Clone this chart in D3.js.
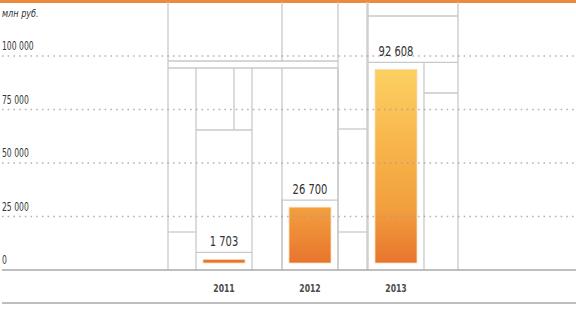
<!DOCTYPE html>
<html>
<head>
<meta charset="utf-8">
<script src="https://cdn.jsdelivr.net/npm/d3@7"></script>
<style>
  body { margin: 0; background: #fff; }
  text { font-family: "DejaVu Sans Condensed", "Liberation Sans Narrow", "Roboto", sans-serif; fill: #333; }
</style>
</head>
<body>
<svg id="chart" width="576" height="311"></svg>
<script>
var years = ["2011", "2012", "2013"];
var values = [1703, 26700, 92608];
var valueLabels = ["1 703", "26 700", "92 608"];
var ticks = [0, 25000, 50000, 75000, 100000];
var tickLabels = ["0", "25 000", "50 000", "75 000", "100 000"];
var unitLabel = "млн руб.";

// decorative frame segments (layout only)
var frames = [
  [168, 2, 168, 270], [282, 2, 282, 61], [338, 2, 338, 270],
  [367, 2, 367, 270], [458, 2, 458, 270], [234, 68, 234, 130],
  [282, 199, 282, 270], [168, 61, 338, 61], [168, 68, 338, 68],
  [196, 130, 252, 130], [168, 232, 196, 232], [338, 129, 367, 129],
  [338, 232, 367, 232], [367, 16, 458, 16], [424, 93, 458, 93]
];

var data = years.map((d, i) => ({ year: d, value: values[i], label: valueLabels[i] }));

var svg = d3.select("#chart");
var W = 576;

// grid scale and bar scale (bars sit slightly above the baseline)
var y = d3.scaleLinear().domain([0, 100000]).range([270, 56]);
var yBar = d3.scaleLinear().domain([0, 100000]).range([263, 54]);

var x = d3.scaleBand()
  .domain(years)
  .range([181, 439])
  .paddingInner(0.512)
  .paddingOuter(0.256);

// narrow text: draw at origin, move and squeeze
function place(sel, fx, fy, sx) {
  sel.attr("transform", (d, i) => "translate(" + fx(d, i) + "," + fy(d, i) + ") scale(" + sx + ",1)");
}

var defs = svg.append("defs");
var grad = defs.append("linearGradient")
  .attr("id", "barGrad")
  .attr("gradientUnits", "userSpaceOnUse")
  .attr("x1", 0).attr("x2", 0)
  .attr("y1", yBar(92608)).attr("y2", yBar(0));
grad.append("stop").attr("offset", "0%").attr("stop-color", "#fcd062");
grad.append("stop").attr("offset", "50%").attr("stop-color", "#f6ae46");
grad.append("stop").attr("offset", "72%").attr("stop-color", "#f29f3e");
grad.append("stop").attr("offset", "100%").attr("stop-color", "#e8742e");

// top orange rule
svg.append("rect")
  .attr("x", 0).attr("y", 0)
  .attr("width", W).attr("height", 3)
  .attr("fill", "#ee8a3c");

// frames
svg.append("g")
  .selectAll("line")
  .data(frames)
  .enter()
  .append("line")
  .attr("x1", d => d[0]).attr("y1", d => d[1])
  .attr("x2", d => d[2]).attr("y2", d => d[3])
  .attr("stroke", "#c9c9c9")
  .attr("stroke-width", 1.3);

// boxes around each bar
var box = svg.append("g").selectAll("g").data(data).enter().append("g");
box.append("line")
  .attr("x1", d => x(d.year) - 7).attr("x2", d => x(d.year) - 7)
  .attr("y1", d => d.year == "2013" ? 2 : 68).attr("y2", 270);
box.append("line")
  .attr("x1", d => x(d.year) + x.bandwidth() + 7).attr("x2", d => x(d.year) + x.bandwidth() + 7)
  .attr("y1", d => d.year == "2013" ? yBar(d.value) - 7 : 68).attr("y2", 270);
box.append("line")
  .attr("x1", d => x(d.year) - 7)
  .attr("x2", d => d.year == "2013" ? 458 : x(d.year) + x.bandwidth() + 7)
  .attr("y1", d => yBar(d.value) - 7).attr("y2", d => yBar(d.value) - 7);
box.selectAll("line")
  .attr("stroke", "#c9c9c9")
  .attr("stroke-width", 1.3);

// bars
svg.append("g")
  .selectAll("rect")
  .data(data)
  .enter()
  .append("rect")
  .attr("x", d => x(d.year))
  .attr("y", d => yBar(d.value))
  .attr("width", x.bandwidth())
  .attr("height", d => yBar(0) - yBar(d.value))
  .attr("fill", "url(#barGrad)")
  .attr("stroke", "#f7dcb0")
  .attr("stroke-width", 0.8);

// dotted grid lines (drawn over bars)
svg.append("g")
  .selectAll("line")
  .data(ticks.filter(t => t > 0))
  .enter()
  .append("line")
  .attr("x1", 2).attr("x2", W)
  .attr("y1", d => y(d)).attr("y2", d => y(d))
  .attr("stroke", "#a0a0a0")
  .attr("stroke-opacity", 0.8)
  .attr("stroke-width", 1.6)
  .attr("stroke-dasharray", "1.6,4.1");

// baseline and bottom rule
svg.append("line")
  .attr("x1", 2).attr("x2", W)
  .attr("y1", y(0)).attr("y2", y(0))
  .attr("stroke", "#a8a8a8").attr("stroke-width", 1.6);
svg.append("line")
  .attr("x1", 2).attr("x2", W)
  .attr("y1", 303).attr("y2", 303)
  .attr("stroke", "#a8a8a8").attr("stroke-width", 1.6);

// tick labels
svg.append("g")
  .selectAll("text")
  .data(ticks)
  .enter()
  .append("text")
  .attr("font-size", 11.5)
  .text((d, i) => tickLabels[i])
  .call(place, () => 2, d => y(d) - 6, 0.74);

svg.append("text")
  .attr("font-size", 11)
  .attr("font-style", "italic")
  .text(unitLabel)
  .call(place, () => 2, () => 17, 0.82);

// value labels
svg.append("g")
  .selectAll("text")
  .data(data)
  .enter()
  .append("text")
  .attr("text-anchor", "middle")
  .attr("font-size", 13.5)
  .text(d => d.label)
  .call(place, d => x(d.year) + x.bandwidth() / 2, d => yBar(d.value) - 13, 0.82);

// year labels
svg.append("g")
  .selectAll("text")
  .data(years)
  .enter()
  .append("text")
  .attr("text-anchor", "middle")
  .attr("font-size", 11)
  .attr("font-weight", "bold")
  .style("fill", "#4a4a4a")
  .text(d => d)
  .call(place, d => x(d) + x.bandwidth() / 2, () => 292, 0.78);
</script>
</body>
</html>
